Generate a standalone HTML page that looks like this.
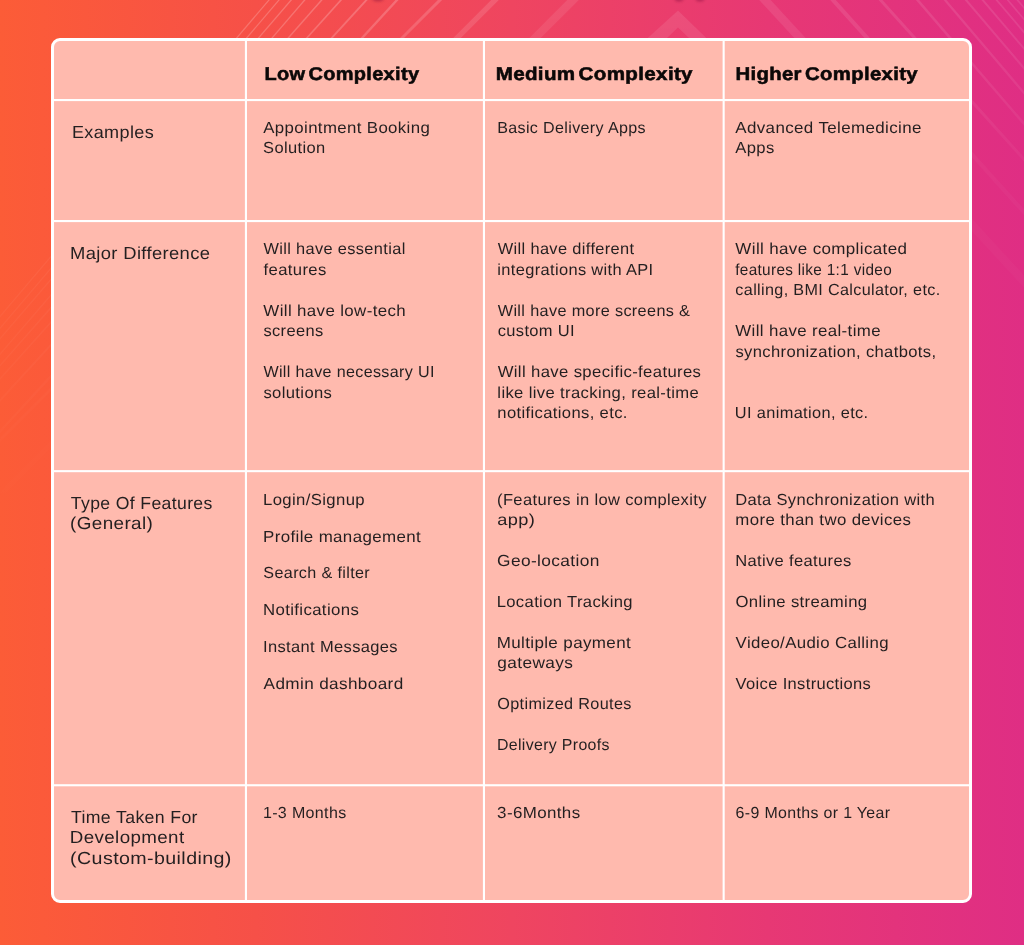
<!DOCTYPE html>
<html lang="en">
<head>
<meta charset="utf-8">
<title>App complexity comparison</title>
<style>
html,body{margin:0;padding:0}
body{width:1024px;height:945px;overflow:hidden;position:relative;
 background:linear-gradient(90deg,#fc5c37 0%,#f65048 25%,#ef4560 50%,#e73874 75%,#df2e84 100%);
 font-family:"Liberation Sans",sans-serif}
#deco{position:absolute;left:0;top:0;width:1024px;height:945px}
#card{position:absolute;left:51px;top:38px;width:915px;height:859px;border:3px solid #fff;border-radius:9px;background:#ffbaae}
#grid{position:absolute;left:0;top:0}
.t{position:absolute;left:0;white-space:nowrap;text-rendering:geometricPrecision;line-height:20px;transform-origin:0 0;margin:0}
.h{font-size:18.4px;font-weight:700;letter-spacing:0.3px;color:#0b0808;word-spacing:-2.6px;-webkit-text-stroke:0.55px #0b0808;}
.l{font-size:17.4px;font-weight:400;letter-spacing:0.35px;color:#231f20;}
.b{font-size:16px;font-weight:400;letter-spacing:0.35px;color:#231f20;}
</style>
</head>
<body>
<svg id="deco" width="1024" height="945" viewBox="0 0 1024 945" aria-hidden="true">
<defs><linearGradient id="fd" x1="0" y1="0" x2="0" y2="1"><stop offset="0" stop-color="#fff" stop-opacity="1"/><stop offset="0.08" stop-color="#fff" stop-opacity=".85"/><stop offset="0.3" stop-color="#fff" stop-opacity=".3"/><stop offset="0.6" stop-color="#fff" stop-opacity=".15"/><stop offset="1" stop-color="#fff" stop-opacity="0"/></linearGradient>
<mask id="mk" maskUnits="userSpaceOnUse" x="0" y="0" width="1024" height="560"><rect x="0" y="0" width="1024" height="560" fill="url(#fd)"/></mask><filter id="bl" x="-50%" y="-100%" width="200%" height="400%"><feGaussianBlur stdDeviation="1.6"/></filter></defs>
<g mask="url(#mk)" fill="#fff">
<polygon fill-opacity="0.22" points="276.7,-10.0 278.3,-10.0 -206.2,560.0 -207.8,560.0"/>
<polygon fill-opacity="0.22" points="286.7,-10.0 288.3,-10.0 -196.2,560.0 -197.8,560.0"/>
<polygon fill-opacity="0.22" points="298.9,-10.0 300.7,-10.0 -189.5,560.0 -191.2,560.0"/>
<polygon fill-opacity="0.22" points="312.4,-10.0 314.2,-10.0 -176.0,560.0 -177.8,560.0"/>
<polygon fill-opacity="0.22" points="329.5,-10.0 331.5,-10.0 -170.1,560.0 -172.1,560.0"/>
<polygon fill-opacity="0.22" points="348.9,-10.0 351.1,-10.0 -161.9,560.0 -164.1,560.0"/>
<polygon fill-opacity="0.21" points="374.3,-10.0 376.9,-10.0 -144.6,560.0 -147.2,560.0"/>
<polygon fill-opacity="0.20" points="404.6,-10.0 407.8,-10.0 -116.6,560.0 -119.8,560.0"/>
<polygon fill-opacity="0.17" points="447.9,-10.0 452.1,-10.0 -117.9,560.0 -122.1,560.0"/>
<polygon fill-opacity="0.13" points="501.2,-10.0 508.8,-10.0 -61.2,560.0 -68.8,560.0"/>
<polygon fill-opacity="0.09" points="577.2,-10.0 588.8,-10.0 18.8,560.0 7.2,560.0"/>
<polygon fill-opacity="0.09" points="750.0,-10.0 761.5,-10.0 1286.0,560.0 1274.5,560.0"/>
<polygon fill-opacity="0.10" points="821.2,-10.0 826.8,-10.0 1339.8,560.0 1334.2,560.0"/>
<polygon fill-opacity="0.10" points="869.5,-10.0 873.5,-10.0 1386.5,560.0 1382.5,560.0"/>
<polygon fill-opacity="0.10" points="907.2,-10.0 910.6,-10.0 1400.8,560.0 1397.4,560.0"/>
<polygon fill-opacity="0.10" points="935.0,-10.0 938.0,-10.0 1422.5,560.0 1419.5,560.0"/>
<polygon fill-opacity="0.10" points="956.1,-10.0 958.9,-10.0 1443.4,560.0 1440.6,560.0"/>
<polygon fill-opacity="0.10" points="972.9,-10.0 975.5,-10.0 1460.0,560.0 1457.4,560.0"/>
<polygon fill-opacity="0.10" points="986.9,-10.0 989.3,-10.0 1473.8,560.0 1471.4,560.0"/>
<polygon fill-opacity="0.10" points="998.1,-10.0 1000.3,-10.0 1484.8,560.0 1482.6,560.0"/>
<polygon fill-opacity="0.10" points="1007.8,-10.0 1010.0,-10.0 1494.5,560.0 1492.3,560.0"/>
<polygon fill-opacity=".10" points="678,10.5 729.0,60 712.1,60 678,27.5 643.9,60 623.5,60"/>
</g>
<g filter="url(#bl)" fill="#6a0f2c" fill-opacity=".38"><ellipse cx="378" cy="-1.5" rx="6" ry="3"/><ellipse cx="679" cy="-1.5" rx="4.5" ry="3"/><ellipse cx="700" cy="-1.5" rx="4.5" ry="3"/></g>
</svg>

<div id="card"></div>
<svg id="grid" width="1024" height="945" viewBox="0 0 1024 945" aria-hidden="true"><g fill="#fff">
<rect x="244.9" y="40" width="2.1" height="862"/><rect x="482.9" y="40" width="2.1" height="862"/><rect x="722.6" y="40" width="2.1" height="862"/>
<rect x="53" y="99" width="917" height="2.1"/><rect x="53" y="220" width="917" height="2.1"/><rect x="53" y="470.1" width="917" height="2.1"/><rect x="53" y="784.2" width="917" height="2.1"/>
</g></svg>
<div role="table" aria-label="App complexity comparison">
<div role="row">
<div role="columnheader">
</div>
<div role="columnheader">
<div class="t h" style="top:64px;transform:translateX(264.46px) scaleX(1.0859)">Low Complexity</div>
</div>
<div role="columnheader">
<div class="t h" style="top:64px;transform:translateX(495.67px) scaleX(1.1193)">Medium Complexity</div>
</div>
<div role="columnheader">
<div class="t h" style="top:64px;transform:translateX(735.39px) scaleX(1.1066)">Higher Complexity</div>
</div>
</div>
<div role="row">
<div role="rowheader">
<div class="t l" style="top:122px;transform:translateX(71.90px) scaleX(1.0378)">Examples</div>
</div>
<div role="cell">
<div class="t b" style="top:119px;transform:translateX(263.27px) scaleX(1.0512)">Appointment Booking</div>
<div class="t b" style="top:139px;transform:translateX(263.09px) scaleX(1.0298)">Solution</div>
</div>
<div role="cell">
<div class="t b" style="top:119px;transform:translateX(497.16px) scaleX(1.0052)">Basic Delivery Apps</div>
</div>
<div role="cell">
<div class="t b" style="top:119px;transform:translateX(735.29px) scaleX(1.0596)">Advanced Telemedicine</div>
<div class="t b" style="top:139px;transform:translateX(735.31px) scaleX(1.0382)">Apps</div>
</div>
</div>
<div role="row">
<div role="rowheader">
<div class="t l" style="top:243px;transform:translateX(69.98px) scaleX(1.0564)">Major Difference</div>
</div>
<div role="cell">
<div class="t b" style="top:240px;transform:translateX(263.38px) scaleX(1.0222)">Will have essential</div>
<div class="t b" style="top:261px;transform:translateX(263.52px) scaleX(1.0414)">features</div>
<div class="t b" style="top:302px;transform:translateX(263.34px) scaleX(1.0551)">Will have low-tech</div>
<div class="t b" style="top:322px;transform:translateX(263.42px) scaleX(1.0288)">screens</div>
<div class="t b" style="top:363px;transform:translateX(263.40px) scaleX(1.0057)">Will have necessary UI</div>
<div class="t b" style="top:384px;transform:translateX(263.42px) scaleX(1.0385)">solutions</div>
</div>
<div role="cell">
<div class="t b" style="top:240px;transform:translateX(497.68px) scaleX(1.0243)">Will have different</div>
<div class="t b" style="top:261px;transform:translateX(497.28px) scaleX(1.0259)">integrations with API</div>
<div class="t b" style="top:302px;transform:translateX(497.72px) scaleX(1.0146)">Will have more screens &amp;</div>
<div class="t b" style="top:322px;transform:translateX(497.68px) scaleX(1.0294)">custom UI</div>
<div class="t b" style="top:363px;transform:translateX(497.66px) scaleX(1.0428)">Will have specific-features</div>
<div class="t b" style="top:384px;transform:translateX(497.33px) scaleX(1.0391)">like live tracking, real-time</div>
<div class="t b" style="top:404px;transform:translateX(497.32px) scaleX(1.0372)">notifications, etc.</div>
</div>
<div role="cell">
<div class="t b" style="top:240px;transform:translateX(735.34px) scaleX(1.0609)">Will have complicated</div>
<div class="t b" style="top:261px;transform:translateX(735.18px) scaleX(0.9579)">features like 1:1 video</div>
<div class="t b" style="top:281px;transform:translateX(735.37px) scaleX(1.0100)">calling, BMI Calculator, etc.</div>
<div class="t b" style="top:322px;transform:translateX(735.34px) scaleX(1.0529)">Will have real-time</div>
<div class="t b" style="top:343px;transform:translateX(735.42px) scaleX(1.0354)">synchronization, chatbots,</div>
<div class="t b" style="top:404px;transform:translateX(734.87px) scaleX(1.0213)">UI animation, etc.</div>
</div>
</div>
<div role="row">
<div role="rowheader">
<div class="t l" style="top:493px;transform:translateX(70.81px) scaleX(1.0138)">Type Of Features</div>
<div class="t l" style="top:513px;transform:translateX(70.01px) scaleX(1.0862)">(General)</div>
</div>
<div role="cell">
<div class="t b" style="top:491px;transform:translateX(263.00px) scaleX(1.0449)">Login/Signup</div>
<div class="t b" style="top:528px;transform:translateX(263.06px) scaleX(1.0566)">Profile management</div>
<div class="t b" style="top:564px;transform:translateX(263.36px) scaleX(1.0090)">Search &amp; filter</div>
<div class="t b" style="top:601px;transform:translateX(262.98px) scaleX(1.0488)">Notifications</div>
<div class="t b" style="top:638px;transform:translateX(262.96px) scaleX(1.0303)">Instant Messages</div>
<div class="t b" style="top:675px;transform:translateX(263.61px) scaleX(1.0711)">Admin dashboard</div>
</div>
<div role="cell">
<div class="t b" style="top:491px;transform:translateX(497.05px) scaleX(1.0319)">(Features in low complexity</div>
<div class="t b" style="top:511px;transform:translateX(497.25px) scaleX(1.1365)">app)</div>
<div class="t b" style="top:552px;transform:translateX(497.09px) scaleX(1.0816)">Geo-location</div>
<div class="t b" style="top:593px;transform:translateX(496.68px) scaleX(1.0374)">Location Tracking</div>
<div class="t b" style="top:634px;transform:translateX(496.63px) scaleX(1.0628)">Multiple payment</div>
<div class="t b" style="top:654px;transform:translateX(497.30px) scaleX(1.0780)">gateways</div>
<div class="t b" style="top:695px;transform:translateX(497.22px) scaleX(1.0134)">Optimized Routes</div>
<div class="t b" style="top:736px;transform:translateX(496.88px) scaleX(0.9935)">Delivery Proofs</div>
</div>
<div role="cell">
<div class="t b" style="top:491px;transform:translateX(735.14px) scaleX(1.0322)">Data Synchronization with</div>
<div class="t b" style="top:511px;transform:translateX(735.36px) scaleX(1.0501)">more than two devices</div>
<div class="t b" style="top:552px;transform:translateX(735.13px) scaleX(1.0323)">Native features</div>
<div class="t b" style="top:593px;transform:translateX(735.52px) scaleX(1.0423)">Online streaming</div>
<div class="t b" style="top:634px;transform:translateX(735.61px) scaleX(1.0496)">Video/Audio Calling</div>
<div class="t b" style="top:675px;transform:translateX(735.60px) scaleX(1.0298)">Voice Instructions</div>
</div>
</div>
<div role="row">
<div role="rowheader">
<div class="t l" style="top:807px;transform:translateX(70.96px) scaleX(1.0172)">Time Taken For</div>
<div class="t l" style="top:827px;transform:translateX(69.80px) scaleX(1.0786)">Development</div>
<div class="t l" style="top:848px;transform:translateX(70.09px) scaleX(1.1291)">(Custom-building)</div>
</div>
<div role="cell">
<div class="t b" style="top:804px;transform:translateX(262.93px) scaleX(1.0001)">1-3 Months</div>
</div>
<div role="cell">
<div class="t b" style="top:804px;transform:translateX(497.10px) scaleX(1.0593)">3-6Months</div>
</div>
<div role="cell">
<div class="t b" style="top:804px;transform:translateX(735.57px) scaleX(0.9954)">6-9 Months or 1 Year</div>
</div>
</div>
</div>
</body>
</html>
